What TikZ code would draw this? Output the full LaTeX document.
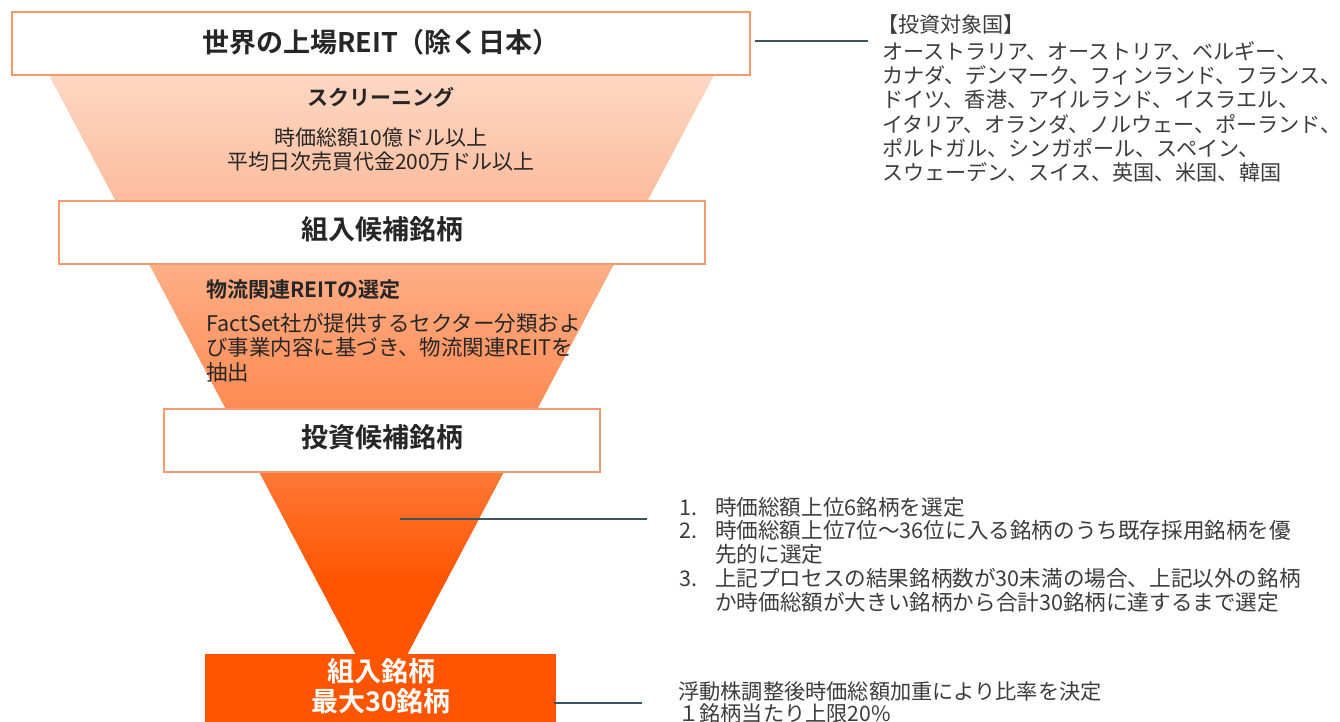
\documentclass[tikz,border=0pt]{standalone}
\usepackage{fontspec}
\setmainfont{Noto Sans CJK JP}[BoldFont={Noto Sans CJK JP Bold}]
\definecolor{boxline}{HTML}{F59A6C}
\definecolor{conn}{HTML}{3B5660}
\definecolor{txt}{HTML}{262626}
\definecolor{txtg}{HTML}{3C3C3C}
\definecolor{deep}{HTML}{FF5500}
\definecolor{g0}{HTML}{FDD7C3}
\definecolor{g1}{HTML}{FCBC9C}
\definecolor{g2}{HTML}{FEAE86}
\definecolor{g3}{HTML}{FF8A52}
\definecolor{g4}{HTML}{FF7836}
\definecolor{g5}{HTML}{FF5500}
\tikzset{
  wbox/.style={draw=boxline, line width=1.2pt, fill=white, inner sep=0pt, minimum height=63pt},
  bigbold/.style={font=\fontsize{27}{30}\selectfont\bfseries, text=txt, inner sep=0pt},
  midbold/.style={font=\fontsize{21}{25}\selectfont\bfseries, text=txt, inner sep=0pt},
  midtext/.style={font=\fontsize{21}{24.5}\selectfont, text=txt, inner sep=0pt},
  sidetext/.style={font=\fontsize{21.1}{24.3}\selectfont, text=txtg, inner sep=0pt, align=left},
  conline/.style={draw=conn, line width=1.8pt}
}
\begin{document}
\begin{tikzpicture}[x=1pt,y=-1pt]
\useasboundingbox (0,0) rectangle (1340,722);
\fill[white] (0,0) rectangle (1340,722);
% funnel with gradient
\begin{scope}
\clip (49,75) -- (714,75) -- (381.5,703) -- cycle;
\foreach \ya/\yb/\ca/\cb in {75/200/g0/g1,200/265/g1/g2,265/408/g2/g3,408/473/g3/g4,473/580/g4/g5,580/706/g5/g5}{
  \pgfmathtruncatemacro\yn{\ya+2}
  \foreach \y in {\ya,\yn,...,\yb}{
    \pgfmathtruncatemacro\p{100*(\y-\ya)/(\yb-\ya)}
    \fill[color=\cb!\p!\ca] (40,\y) rectangle (740,\y+2.6);
  }
}
\end{scope}
% boxes
\node[wbox, minimum width=738pt] (top) at (381,43.5) {};
\node[bigbold] (toptext) at (381,42) {世界の上場REIT（除く日本）};
\node[wbox, minimum width=646pt] (cand) at (382,232.5) {};
\node[bigbold] (candtext) at (382,229) {組入候補銘柄};
\node[wbox, minimum width=436pt] (inv) at (382,440.5) {};
\node[bigbold] (invtext) at (382,437) {投資候補銘柄};
\node[fill=deep, draw=none, inner sep=0pt, minimum width=351pt, minimum height=90pt, anchor=north] (final) at (380.5,654) {};
\node[bigbold, text=white, align=center] (finaltext) at (381,686) {組入銘柄\\最大30銘柄};
% funnel texts
\node[midbold] (scr) at (381,97) {スクリーニング};
\node[midtext, align=center] (scrbody) at (381,149.5) {時価総額10億ドル以上\\平均日次売買代金200万ドル以上};
\node[midbold, anchor=west] (logi) at (206,290) {物流関連REITの選定};
\node[midtext, align=left, anchor=west, font=\fontsize{21.5}{24.5}\selectfont] (logibody) at (206,347.5) {FactSet社が提供するセクター分類およ\\び事業内容に基づき、物流関連REITを\\抽出};
% right texts
\node[sidetext, anchor=west] (cntyhead) at (877,24) {【投資対象国】};
\node[sidetext, anchor=west] (cnty) at (882,111.75) {オーストラリア、オーストリア、ベルギー、\\カナダ、デンマーク、フィンランド、フランス、\\ドイツ、香港、アイルランド、イスラエル、\\イタリア、オランダ、ノルウェー、ポーランド、\\ポルトガル、シンガポール、スペイン、\\スウェーデン、スイス、英国、米国、韓国};
\node[sidetext, anchor=west, font=\fontsize{21.6}{23.8}\selectfont] (rules) at (679,554.5) {\makebox[36pt][l]{1.}時価総額上位6銘柄を選定\\\makebox[36pt][l]{2.}時価総額上位7位～36位に入る銘柄のうち既存採用銘柄を優\\\hspace*{36pt}先的に選定\\\makebox[36pt][l]{3.}上記プロセスの結果銘柄数が30未満の場合、上記以外の銘柄\\\hspace*{36pt}か時価総額が大きい銘柄から合計30銘柄に達するまで選定};
\node[sidetext, anchor=west, font=\fontsize{21.2}{22.5}\selectfont] (weight) at (678,702.5) {浮動株調整後時価総額加重により比率を決定\\１銘柄当たり上限20\%};
% connectors
\coordinate (c1a) at (755,41);
\coordinate (c1b) at (868,41);
\coordinate (c2a) at (400,519);
\coordinate (c2b) at (647,519);
\coordinate (c3a) at (554,703);
\coordinate (c3b) at (642,703);
\draw[conline] (c1a) -- (c1b);
\draw[conline] (c2a) -- (c2b);
\draw[conline] (c3a) -- (c3b);
\end{tikzpicture}
\end{document}
